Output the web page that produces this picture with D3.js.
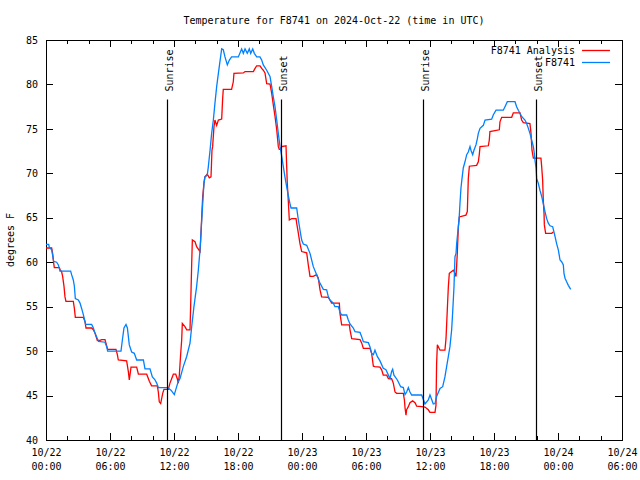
<!DOCTYPE html>
<html><head><meta charset="utf-8">
<script src="https://cdn.jsdelivr.net/npm/d3@7"></script>
<style>
body{margin:0;background:#fff;}
svg text{font-family:"DejaVu Sans Mono","Liberation Mono",monospace;font-size:10px;fill:#000;}
</style></head>
<body><svg id="c" width="640" height="480"></svg>
<script>
// ---- data (hours after 2024-10-22 00:00 UTC) ----
const titleText = "Temperature for F8741 on 2024-Oct-22 (time in UTC)";
const yLabel = "degrees F";
const seriesNames = ["F8741 Analysis", "F8741"];
const seriesColors = ["#ff0000", "#0080ff"];
const yTicks = [40,45,50,55,60,65,70,75,80,85];
const xTickHours = [0,6,12,18,24,30,36,42,48,54];
const sunEvents = ["Sunrise","Sunset","Sunrise","Sunset"];
const sunHours = [11.37, 22.03, 35.35, 45.95];

const obsHours = [0.0,0.25,0.31,0.53,0.62,0.72,1.0,1.16,1.31,2.31,2.4,2.56,2.66,2.75,3.03,3.19,3.34,3.5,3.72,4.28,4.44,4.6,4.75,4.91,5.53,5.69,5.78,7.03,7.16,7.31,7.5,7.63,7.81,8.03,8.28,8.5,9.13,9.28,9.75,9.97,10.2,10.38,10.53,11.4,11.72,12.03,12.25,12.4,12.56,12.87,13.19,13.5,13.66,13.87,14.12,14.28,14.44,14.53,14.69,14.81,14.9,15.12,15.22,15.38,15.53,15.69,15.84,16.0,16.16,16.31,16.47,16.62,16.78,17.0,17.19,17.4,18.03,18.34,18.5,18.66,18.87,19.06,19.19,19.38,19.53,19.75,20.06,20.22,20.37,20.69,21.0,21.16,21.31,21.47,21.63,21.78,21.94,22.1,22.25,22.4,22.56,22.72,22.87,22.97,23.5,23.66,23.88,23.97,24.12,24.44,24.75,25.06,25.44,25.62,26.0,26.31,26.47,26.62,26.94,27.09,27.4,27.56,27.72,28.19,28.34,28.5,28.81,28.97,29.44,29.6,29.75,30.22,30.37,30.53,30.69,30.84,31.06,31.31,31.62,31.87,32.1,32.25,32.4,32.5,32.62,32.94,33.25,33.5,33.66,33.81,33.97,34.12,34.28,35.22,35.53,35.84,36.0,36.31,36.47,36.62,36.94,37.19,37.4,37.56,37.72,37.87,38.03,38.12,38.25,38.34,38.44,38.5,38.66,38.75,38.81,38.9,39.0,39.12,39.28,39.44,39.59,39.75,39.84,40.0,40.12,40.31,40.44,40.53,40.69,41.0,41.16,41.78,41.94,42.19,42.87,43.03,43.25,43.97,44.12,44.28,44.59,44.9,45.06,45.22,45.37,45.53,45.69,45.78,45.84,45.94,46.0,46.15,46.31,46.47,46.62,46.78,46.94,47.09,47.25,47.5,47.62,47.72,47.87,48.03,48.19,48.34,48.5,48.56,48.66,48.81,48.97,49.19];
const obsTemps = [62.0,62.0,61.7,61.4,60.8,60.1,60.0,59.7,59.0,59.0,58.6,58.0,57.3,55.9,55.75,55.4,54.8,54.1,53.0,53.0,52.6,52.0,51.6,51.1,51.0,50.5,50.0,50.0,51.25,52.6,53.0,52.6,50.7,49.9,49.75,49.0,49.0,48.0,48.0,47.1,46.8,46.4,45.9,45.9,45.6,45.1,46.0,46.6,46.9,48.25,49.4,50.9,52.75,55.0,57.25,59.1,61.4,63.25,66.6,68.9,69.6,69.8,70.75,72.6,74.5,76.0,77.9,79.75,81.25,82.6,84.0,83.9,83.1,82.2,82.75,83.1,83.1,84.0,83.5,84.0,83.5,84.0,83.5,84.0,83.5,83.1,83.1,82.75,82.2,81.6,80.9,79.75,78.6,77.5,76.0,74.5,73.0,71.9,70.75,69.6,68.5,67.5,66.6,66.1,66.1,64.75,63.1,62.5,62.05,61.9,61.0,59.5,58.4,57.8,56.95,56.9,56.1,55.75,55.4,55.0,55.0,54.4,54.06,54.06,53.5,53.05,52.6,52.2,52.1,51.6,51.06,50.95,50.5,49.75,49.6,50.1,49.4,48.9,48.06,47.9,47.3,46.9,47.7,47.95,47.3,46.75,46.0,45.9,45.1,45.4,45.9,45.4,45.06,45.06,44.05,44.5,45.06,44.05,44.1,44.9,45.8,46.0,47.1,48.25,49.4,50.5,52.4,54.25,57.25,60.6,61.0,62.1,64.0,65.3,66.6,68.3,69.4,70.6,71.3,72.1,72.4,73.0,72.6,72.1,72.6,73.2,73.9,74.5,75.06,75.4,76.0,76.1,76.6,77.1,77.1,77.5,78.06,78.06,77.5,77.1,76.4,76.0,75.6,75.06,74.5,73.75,73.0,72.25,71.5,70.6,69.4,68.9,68.1,67.4,66.6,65.7,64.9,64.4,64.1,64.0,63.4,62.9,62.1,61.4,60.25,60.06,59.7,58.75,58.2,57.8,57.4,56.95];

const anaHours = [0.0,0.53,0.62,0.72,0.78,1.25,1.31,1.47,1.56,1.69,1.78,1.87,2.56,2.66,2.75,3.5,3.66,3.75,4.28,4.44,4.6,4.81,5.06,5.22,5.53,5.62,5.78,6.56,6.69,6.78,7.56,7.72,7.81,7.97,8.5,8.66,9.44,9.69,9.9,10.44,10.53,10.62,10.75,10.94,11.06,11.47,11.62,11.78,11.94,12.16,12.31,12.4,12.5,12.62,12.72,12.78,13.03,13.19,13.5,13.56,13.66,13.72,13.97,14.12,14.44,14.5,14.6,14.69,14.81,14.9,15.12,15.31,15.47,15.56,15.62,15.75,15.84,16.0,16.16,16.47,16.56,16.62,17.4,17.56,17.62,18.5,18.66,19.44,19.6,19.75,20.06,20.22,20.37,20.53,20.69,21.0,21.16,21.31,21.47,21.63,21.78,21.87,22.0,22.1,22.5,22.56,22.62,22.72,22.81,23.03,23.44,23.5,23.66,23.81,23.97,24.44,24.59,24.75,25.06,25.37,25.53,25.69,25.84,26.47,26.62,26.78,27.5,27.56,27.72,28.44,28.5,28.66,29.44,29.6,29.75,30.37,30.53,30.69,30.84,31.31,31.47,31.62,31.94,32.1,32.4,32.56,32.72,32.87,33.5,33.6,33.66,33.75,33.81,33.97,34.12,34.37,34.6,34.75,35.22,35.53,35.84,36.0,36.47,36.56,36.62,36.69,36.94,37.4,37.5,37.62,37.72,37.81,38.19,38.28,38.44,38.56,38.66,38.75,39.37,39.5,39.59,39.69,40.37,40.53,40.62,40.69,41.47,41.56,41.62,42.5,42.56,42.72,43.66,43.81,44.44,44.59,44.75,45.37,45.47,45.56,45.69,46.4,46.47,46.56,46.62,46.69,46.72,46.84,47.41,47.56];
const anaTemps = [61.6,61.6,61.0,59.9,59.4,59.4,59.2,58.9,58.4,57.25,56.1,55.6,55.6,54.8,53.8,53.8,53.3,52.6,52.6,52.4,52.0,51.2,51.2,51.3,51.3,50.9,50.2,50.2,49.6,49.0,48.9,47.7,46.75,48.2,48.2,47.4,47.4,46.6,46.1,46.1,45.4,44.3,44.1,45.25,45.7,45.7,46.4,46.9,47.4,47.4,46.9,46.4,47.3,49.6,51.25,53.1,52.75,52.4,52.4,55.0,59.9,62.5,62.3,61.75,61.2,62.5,65.1,67.4,68.9,69.6,69.9,69.5,69.6,72.6,73.0,75.25,76.0,75.4,76.0,76.1,78.4,79.45,79.45,80.3,81.25,81.3,81.45,81.45,81.8,82.1,82.1,81.8,81.6,81.3,80.1,80.05,79.0,77.7,76.4,74.9,73.0,72.7,72.7,73.0,73.1,70.9,68.9,66.8,64.75,64.9,64.9,64.4,63.25,62.1,61.2,61.06,59.7,58.4,58.4,58.6,58.2,56.9,56.1,56.05,55.75,55.4,55.4,54.25,52.95,52.95,52.4,51.4,51.3,50.9,50.3,50.3,49.75,48.3,48.25,48.2,47.9,47.3,47.3,46.9,46.9,46.4,45.4,45.25,45.25,44.5,43.6,42.8,43.4,43.75,44.2,44.4,44.2,43.8,43.75,43.7,43.4,43.1,43.1,43.9,48.6,50.7,50.1,50.1,51.4,54.6,57.25,58.75,59.1,58.9,58.4,61.0,64.0,65.1,65.3,65.7,69.4,70.8,70.9,71.3,72.1,73.0,73.1,73.75,74.7,74.9,75.8,76.3,76.3,76.8,76.8,76.0,75.7,75.6,74.5,72.6,71.7,71.7,70.75,69.25,67.0,65.5,64.2,63.25,63.25,63.4];

// ---- chart ----
const base = Date.UTC(2024, 9, 22, 0, 0);
const toDate = h => new Date(base + h * 3600e3);
const L = 46, R = 622, T = 40, B = 440;
const svg = d3.select("#c");
const x = d3.scaleUtc().domain([toDate(0), toDate(54)]).range([L, R]);
const y = d3.scaleLinear().domain([40, 85]).range([B, T]);

const fmtTop = d3.utcFormat("%m/%d"), fmtBot = d3.utcFormat("%H:%M");

// minor ticks every 2 h (inward), all four sides
const minorVals = d3.utcHour.every(2).range(toDate(0), toDate(54.01));
svg.append("g").attr("transform", `translate(0,${B})`)
  .call(d3.axisBottom(x).tickValues(minorVals).tickSize(-4).tickFormat(""))
  .call(g => g.select(".domain").remove());
svg.append("g").attr("transform", `translate(0,${T})`)
  .call(d3.axisTop(x).tickValues(minorVals).tickSize(-4).tickFormat(""))
  .call(g => g.select(".domain").remove());

// major x ticks with two-line labels
const majorVals = xTickHours.map(toDate);
const xa = svg.append("g").attr("transform", `translate(0,${B})`)
  .call(d3.axisBottom(x).tickValues(majorVals).tickSize(-7).tickPadding(9).tickFormat(d => fmtTop(d)))
  .call(g => g.select(".domain").remove());
xa.selectAll(".tick text").each(function(d){
  const t = d3.select(this); t.text("");
  t.append("tspan").attr("x", 0).attr("dy", "0.71em").text(fmtTop(d));
  t.append("tspan").attr("x", 0).attr("dy", "1.4em").text(fmtBot(d));
});
svg.append("g").attr("transform", `translate(0,${T})`)
  .call(d3.axisTop(x).tickValues(majorVals).tickSize(-7).tickFormat(""))
  .call(g => g.select(".domain").remove());

// y axes
svg.append("g").attr("transform", `translate(${L},0)`)
  .call(d3.axisLeft(y).tickValues(yTicks).tickSize(-7).tickPadding(8))
  .call(g => g.select(".domain").remove());
svg.append("g").attr("transform", `translate(${R},0)`)
  .call(d3.axisRight(y).tickValues(yTicks).tickSize(-7).tickFormat(""))
  .call(g => g.select(".domain").remove());
svg.selectAll(".tick line").attr("stroke", "#000").attr("shape-rendering", "crispEdges");
svg.selectAll(".tick text").style("font-family", null).style("font-size", null).attr("font-family", null).attr("font-size", null);
svg.selectAll("g").attr("font-family", null).attr("font-size", null);

// frame
svg.append("rect").attr("x", L + 0.5).attr("y", T + 0.5).attr("width", R - L).attr("height", B - T)
  .attr("fill", "none").attr("stroke", "#000").attr("shape-rendering", "crispEdges");

// series
const line = d3.line().x(d => x(toDate(d[0]))).y(d => y(d[1]));
const anaData = d3.zip(anaHours, anaTemps);
const obsData = d3.zip(obsHours, obsTemps);
svg.append("path").datum(anaData).attr("d", line).attr("fill", "none").attr("stroke", seriesColors[0]).attr("stroke-width", 1.3);
svg.append("path").datum(obsData).attr("d", line).attr("fill", "none").attr("stroke", seriesColors[1]).attr("stroke-width", 1.3);

// sunrise / sunset markers
sunHours.forEach((h, i) => {
  const xx = Math.round(x(toDate(h))) + 0.5;
  svg.append("line").attr("x1", xx).attr("x2", xx).attr("y1", y(78.3)).attr("y2", B)
    .attr("stroke", "#000").attr("stroke-width", 1.2);
  svg.append("text").attr("transform", `translate(${xx + 1.5},${y(79.2)}) rotate(-90)`)
    .attr("dominant-baseline", "central").attr("text-anchor", "start").text(sunEvents[i]);
});

// title and y label
svg.append("text").attr("x", (L + R) / 2).attr("y", 20).attr("text-anchor", "middle")
  .attr("dominant-baseline", "central").text(titleText);
svg.append("text").attr("transform", `translate(10,${(T + B) / 2}) rotate(-90)`)
  .attr("text-anchor", "middle").attr("dominant-baseline", "central").text(yLabel);

// legend
seriesNames.forEach((n, i) => {
  const ly = 50 + i * 12;
  svg.append("text").attr("x", 575).attr("y", ly).attr("text-anchor", "end")
    .attr("dominant-baseline", "central").text(n);
  svg.append("line").attr("x1", 582).attr("x2", 610).attr("y1", ly + 0.5).attr("y2", ly + 0.5)
    .attr("stroke", seriesColors[i]).attr("stroke-width", 1.3);
});
</script></body></html>
